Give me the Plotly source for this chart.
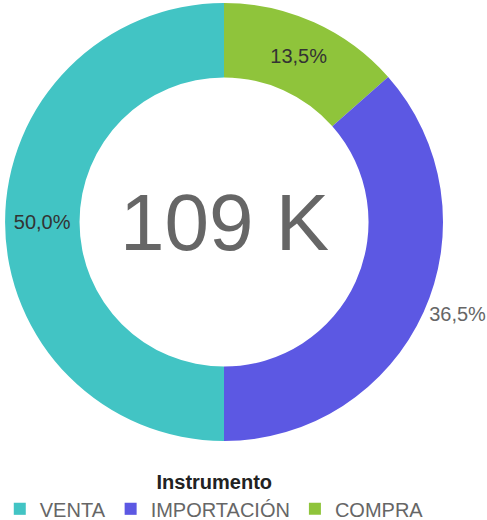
import plotly.graph_objects as go

# Share of total by instrument (thousands), listed clockwise from 12 o'clock
instrumentos = ["COMPRA", "IMPORTACIÓN", "VENTA"]
valores = [14.7, 39.8, 54.5]
colores = ["#8fc43b", "#5c58e3", "#42c4c4"]
posiciones_texto = ["inside", "outside", "inside"]
colores_texto = ["#333333", "#666666", "#333333"]
total_texto = "109 K"

fig = go.Figure(
    go.Pie(
        labels=instrumentos,
        values=valores,
        hole=0.66,
        sort=False,
        direction="clockwise",
        rotation=0,
        automargin=False,
        marker=dict(colors=colores, line=dict(width=0)),
        texttemplate="%{percent:.1%}",
        textposition=posiciones_texto,
        insidetextorientation="horizontal",
        textfont=dict(size=20, color=colores_texto),
        hoverinfo="label+value+percent",
    )
)

fig.add_annotation(
    text=total_texto,
    x=0.5, y=0.5, xref="paper", yref="paper",
    xanchor="center", yanchor="middle",
    showarrow=False,
    font=dict(size=80, color="#666666"),
)

fig.update_layout(
    width=487,
    height=520,
    margin=dict(l=5, r=44, t=3, b=79, autoexpand=False),
    paper_bgcolor="white",
    plot_bgcolor="white",
    separators=",.",
    font=dict(family="Liberation Sans, Arial, sans-serif", color="#666666"),
    legend=dict(
        orientation="h",
        traceorder="reversed",
        xref="container", yref="paper",
        x=0.44, xanchor="center",
        y=-0.051, yanchor="top",
        title=dict(text="<b>Instrumento</b>", side="top center",
                   font=dict(size=20, color="#222222")),
        font=dict(size=20, color="#666666"),
        itemwidth=30,
        tracegroupgap=0,
    ),
)

fig.write_html("out.html")
